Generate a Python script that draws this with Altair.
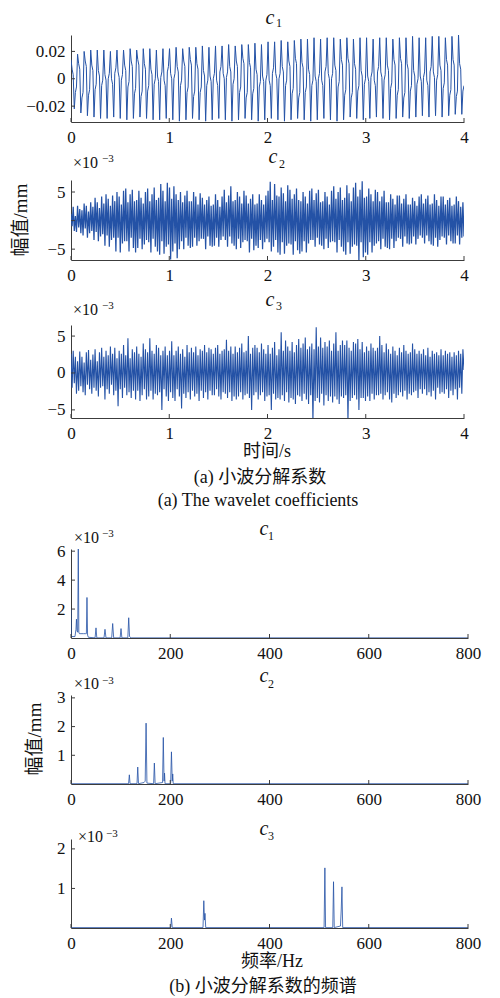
import altair as alt
import numpy as np
import pandas as pd

# ---------------- data ----------------
# c1 wavelet coefficient (unit: 1e-3 mm), 0..4 s
c1_vals = [
    14, 7, 3, -22, -10, -6,   18, 11, 7, -25, -14, -10,  20, 13, 9, -27, -12, -8,
    21, 10, 6, -28, -8, -4,   21, 6, 2, -29, -5, -1,     21, 3, -1, -29, 0, 4,
    20, 0, -4, -28, 4, 8,     21, 5, 1, -29, -1, 3,      21, 10, 6, -30, -6, -2,
    22, 13, 9, -29, -11, -7,  21, 14, 10, -28, -13, -9,  22, 11, 7, -29, -9, -5,
    22, 7, 3, -30, -4, 0,     21, 2, -2, -30, 1, 5,      22, -1, -5, -29, 5, 9,
    22, 4, 0, -30, 0, 4,      23, 9, 5, -31, -5, -1,     22, 13, 9, -30, -10, -6,
    23, 14, 10, -29, -13, -9, 23, 11, 7, -30, -10, -6,   24, 6, 2, -31, -5, -1,
    23, 2, -2, -30, 0, 4,     24, -1, -5, -29, 5, 9,     24, 4, 0, -30, 1, 5,
    25, 9, 5, -31, -4, 0,     24, 13, 9, -30, -10, -6,   25, 15, 11, -29, -14, -10,
    25, 12, 8, -30, -11, -7,  26, 7, 3, -31, -6, -2,     25, 2, -2, -30, -1, 3,
    27, -1, -5, -29, 4, 8,    27, 4, 0, -30, 0, 4,       28, 9, 5, -31, -5, -1,
    27, 13, 9, -30, -11, -7,  28, 15, 11, -29, -14, -10, 29, 12, 8, -30, -10, -6,
    29, 7, 3, -31, -5, -1,    30, 2, -2, -30, 0, 4,      29, -1, -5, -29, 5, 9,
    30, 4, 0, -30, 0, 4,      30, 10, 6, -31, -6, -2,    29, 14, 10, -30, -12, -8,
    30, 15, 11, -28, -14, -10, 29, 11, 7, -29, -9, -5,   30, 6, 2, -30, -4, 0,
    30, 2, -2, -29, 1, 5,     29, -1, -5, -28, 5, 9,     30, 5, 1, -29, -1, 3,
    30, 10, 6, -30, -7, -3,   29, 14, 10, -29, -12, -8,  30, 15, 11, -28, -14, -10,
    30, 11, 7, -29, -9, -5,   31, 6, 2, -28, -4, 0,      30, 2, -2, -27, 1, 5,
    30, -1, -5, -28, 5, 9,    31, 5, 1, -27, -1, 3,      31, 10, 6, -28, -7, -3,
    30, 14, 10, -27, -12, -8, 31, 14, 10, -26, -13, -9,  32, 11, 7, -26, -9, -5,
]

# c2 wavelet coefficient (unit: 1e-3 mm)
c2_vals = [
    1.2, -1.0, 2.4, -1.8, 0.8, -2.0, 2.6, -1.2, 2.0, -2.2,
    1.8, -2.6, 3.0, -1.4, 2.6, -3.0, 1.6, -2.2, 3.2, -1.8,
    2.4, -3.4, 4.0, -2.0, 3.2, -3.6, 2.2, -2.8, 4.2, -2.4,
    3.0, -4.4, 4.6, -2.6, 3.8, -4.6, 2.6, -3.4, 4.4, -3.0,
    3.4, -5.4, 5.0, -3.0, 4.2, -5.6, 2.8, -4.0, 5.2, -3.6,
    5.6, -3.6, 3.2, -5.4, 4.6, -3.0, 5.4, -4.8, 3.4, -5.6,
    3.6, -4.8, 5.2, -3.2, 4.0, -5.0, 3.0, -4.2, 5.0, -3.4,
    5.6, -3.8, 3.4, -5.6, 4.6, -3.2, 5.8, -4.6, 3.6, -5.4,
    4.0, -6.0, 6.4, -3.6, 5.2, -5.8, 3.4, -4.6, 6.6, -4.2,
    5.8, -6.8, 3.8, -5.4, 6.0, -4.0, 4.6, -6.6, 3.6, -5.0,
    5.0, -3.6, 3.2, -5.0, 4.4, -3.0, 5.2, -4.4, 3.4, -4.8,
    3.4, -4.6, 5.0, -3.0, 4.2, -4.4, 2.8, -3.6, 4.8, -3.2,
    4.0, -3.2, 2.8, -5.0, 3.6, -2.8, 4.2, -4.4, 2.6, -4.6,
    2.8, -4.4, 4.6, -3.0, 3.6, -4.6, 2.4, -3.4, 4.2, -2.8,
    5.4, -3.4, 3.2, -4.6, 4.4, -2.8, 6.0, -4.0, 3.4, -4.4,
    3.6, -5.0, 5.0, -3.2, 4.2, -4.8, 3.0, -3.8, 5.2, -3.4,
    4.4, -3.6, 3.0, -5.6, 3.8, -3.2, 4.6, -5.2, 2.8, -4.4,
    3.0, -4.8, 4.6, -3.4, 3.6, -5.0, 2.8, -3.8, 4.4, -3.2,
    5.2, -3.8, 6.8, -5.4, 3.6, -4.6, 6.4, -3.4, 4.4, -5.6,
    4.2, -6.0, 5.8, -3.8, 4.8, -5.8, 3.4, -4.4, 6.2, -4.0,
    5.4, -4.2, 3.8, -6.0, 4.6, -3.6, 5.6, -5.2, 3.6, -5.8,
    3.4, -5.4, 5.0, -3.6, 4.2, -5.6, 3.0, -4.0, 5.2, -3.4,
    5.6, -3.4, 3.6, -4.6, 4.8, -3.0, 5.4, -4.2, 3.2, -4.4,
    3.4, -5.0, 5.0, -3.2, 4.2, -4.8, 2.8, -3.8, 5.2, -3.6,
    6.0, -3.8, 3.8, -5.6, 5.0, -3.4, 5.8, -4.6, 3.6, -5.4,
    4.0, -6.0, 6.2, -3.8, 4.8, -5.8, 3.4, -4.6, 5.8, -4.2,
    6.6, -4.4, 4.2, -7.0, 5.4, -3.8, 6.9, -6.4, 4.0, -5.6,
    4.2, -6.0, 5.6, -3.8, 4.6, -5.6, 3.4, -4.4, 5.4, -4.0,
    5.0, -3.6, 3.4, -5.0, 4.2, -3.2, 5.2, -4.6, 3.2, -4.8,
    3.2, -5.0, 4.6, -3.2, 3.8, -4.8, 2.8, -3.6, 4.4, -3.0,
    4.4, -3.2, 3.0, -4.6, 3.8, -2.8, 4.6, -4.0, 2.8, -4.2,
    2.8, -4.0, 4.0, -2.8, 3.4, -4.2, 2.6, -3.2, 4.2, -2.6,
    4.6, -3.0, 3.0, -4.0, 3.8, -2.6, 4.4, -3.6, 2.8, -4.2,
    3.0, -4.4, 4.6, -3.0, 3.6, -4.6, 2.6, -3.4, 4.2, -2.8,
    4.2, -3.0, 2.8, -4.2, 3.6, -2.6, 4.0, -3.6, 2.6, -4.0,
    2.8, -4.0, 4.2, -2.6, 3.4, -4.2, 2.4, -3.0, 3.2, -2.8,
]

# c3 wavelet coefficient (unit: 1e-3 mm)
c3_vals = [
    2.6, -2.0, 3.0, -1.4, 2.2, -2.8, 1.6, -2.4, 2.9, -1.8,
    2.2, -2.6, 1.4, -3.0, 2.8, -1.6, 3.1, -2.2, 1.8, -2.8,
    2.5, -2.0, 3.2, -2.4, 1.6, -3.2, 2.8, -2.0, 3.4, -1.8,
    2.2, -3.6, 3.0, -2.2, 2.4, -2.8, 3.6, -1.6, 2.6, -3.0,
    3.4, -2.4, 2.0, -4.5, 3.0, -2.2, 2.6, -3.4, 3.8, -2.0,
    2.4, -3.0, 4.7, -2.6, 2.0, -3.4, 3.2, -2.4, 2.8, -3.6,
    3.6, -2.4, 2.6, -3.8, 2.2, -3.0, 4.0, -2.2, 3.2, -3.6,
    2.8, -3.2, 4.7, -2.4, 3.0, -3.6, 2.6, -2.8, 3.8, -3.0,
    3.4, -2.6, 2.4, -5.0, 3.0, -2.2, 3.6, -3.2, 2.4, -3.8,
    3.0, -2.6, 4.3, -3.4, 2.4, -3.8, 3.0, -2.2, 3.6, -3.2,
    2.6, -4.8, 3.2, -2.8, 2.2, -3.4, 3.8, -2.6, 2.8, -3.6,
    3.4, -2.4, 2.8, -3.2, 3.6, -2.8, 2.4, -3.8, 3.2, -2.4,
    3.0, -3.4, 3.8, -2.6, 2.8, -3.6, 3.4, -2.4, 3.2, -3.0,
    2.6, -3.0, 3.4, -2.2, 3.8, -3.2, 2.6, -3.6, 3.0, -2.6,
    3.2, -2.8, 4.5, -3.4, 3.0, -2.6, 3.6, -3.8, 2.6, -3.2,
    3.6, -3.6, 2.8, -3.2, 3.4, -2.6, 4.0, -3.6, 2.8, -3.0,
    3.0, -2.8, 5.0, -3.4, 2.6, -5.0, 3.4, -3.0, 3.8, -2.6,
    3.4, -3.6, 2.8, -3.0, 4.0, -2.6, 3.2, -3.8, 2.6, -3.2,
    3.8, -3.0, 2.6, -5.0, 3.4, -2.8, 4.2, -3.6, 2.4, -3.4,
    3.2, -3.6, 5.5, -3.0, 3.0, -3.8, 4.4, -2.6, 3.6, -4.0,
    3.0, -3.4, 4.2, -3.6, 2.8, -4.2, 3.8, -3.0, 4.6, -3.2,
    3.4, -3.8, 4.0, -2.8, 4.8, -3.6, 3.2, -4.2, 3.6, -3.0,
    4.0, -6.6, 3.2, -3.8, 6.2, -3.4, 3.6, -4.0, 4.8, -2.8,
    3.4, -4.4, 4.2, -3.0, 3.6, -3.8, 4.4, -3.2, 3.0, -4.0,
    4.0, -3.2, 5.5, -3.6, 3.0, -4.2, 3.8, -3.2, 4.4, -3.4,
    3.8, -3.0, 4.4, -6.6, 3.4, -3.8, 3.0, -3.4, 4.2, -3.0,
    4.0, -3.6, 4.6, -5.0, 3.2, -3.4, 4.2, -3.4, 2.8, -3.8,
    3.6, -3.2, 3.0, -3.8, 4.0, -2.8, 3.4, -3.6, 3.0, -3.0,
    3.4, -3.0, 5.0, -2.8, 3.8, -3.6, 2.8, -3.0, 4.0, -2.6,
    3.2, -3.6, 2.6, -4.0, 3.6, -2.8, 3.0, -3.4, 2.4, -3.0,
    3.4, -2.6, 2.8, -3.2, 3.8, -2.4, 3.0, -3.6, 2.6, -2.8,
    2.8, -3.0, 4.0, -2.6, 3.2, -2.4, 2.6, -3.4, 3.0, -2.2,
    2.6, -2.8, 3.2, -2.2, 2.4, -3.0, 3.4, -2.6, 2.2, -3.2,
    3.0, -2.4, 2.6, -3.6, 2.8, -2.0, 2.4, -2.8, 3.2, -2.6,
    2.4, -2.8, 3.0, -2.2, 2.6, -3.4, 2.8, -2.4, 2.2, -3.0,
    2.8, -2.2, 2.4, -3.6, 3.0, -2.0, 2.6, -2.8, 3.2, 0.4,
]

# spectra (frequency in Hz, amplitude in 1e-3 mm)
s1_freq = [0, 0.5, 2, 8, 10, 11, 12, 13.5, 14.7, 15.8, 17, 20, 25, 29, 31, 32.2,
           33.4, 35, 48.5, 50.4, 52, 66.5, 68.5, 70.5, 82, 84, 86, 99, 100.8,
           102.5, 114.5, 116.3, 118, 121, 800]
s1_amp = [2.0, 0.2, 0.1, 0.1, 0.6, 1.3, 0.5, 0.4, 6.3, 0.4, 0.3, 0.3, 0.3, 0.3,
          0.3, 2.8, 0.2, 0.05, 0.01, 0.7, 0.01, 0.01, 0.6, 0.01, 0.01, 1.0,
          0.01, 0.01, 0.65, 0.01, 0.01, 1.4, 0.1, 0.01, 0.01]

s2_freq = [0, 116, 117.6, 119, 133, 134.5, 136, 147, 149.5, 151.3, 153, 166.5,
           168, 169.5, 184.5, 186, 187.5, 188.5, 189.5, 200.8, 202.4, 204, 205,
           206, 800]
s2_amp = [0.01, 0.01, 0.32, 0.01, 0.01, 0.59, 0.01, 0.05, 0.1, 2.12, 0.03, 0.01,
          0.73, 0.01, 0.05, 1.62, 0.1, 0.38, 0.01, 0.01, 1.12, 0.1, 0.35, 0.01,
          0.01]

s3_freq = [0, 201, 202.4, 204, 266, 267.6, 269, 270, 271.5, 510, 511.6, 513,
           527.5, 529, 530.5, 543, 544.6, 546, 547.5, 800]
s3_amp = [0.01, 0.01, 0.25, 0.01, 0.01, 0.69, 0.2, 0.37, 0.01, 0.01, 1.52, 0.01,
          0.01, 1.17, 0.01, 0.05, 0.48, 1.04, 0.01, 0.01]

time_ticks = [0, 1, 2, 3, 4]
freq_ticks = [0, 200, 400, 600, 800]

# ---------------- style ----------------
SERIF = "Liberation Serif"
CJK = "Liberation Serif, Noto Sans CJK SC"
LINE = "#2452a6"
AXIS = "#3c3c3c"
TXT = "#111111"


def text_layer(s, x, y, size, italic=False, align="left", baseline="alphabetic",
               angle=0, font=SERIF):
    kw = dict(font=font, fontSize=size, color=TXT, align=align, baseline=baseline)
    if italic:
        kw["fontStyle"] = "italic"
    if angle:
        kw["angle"] = angle
    return alt.Chart(pd.DataFrame({"s": [s]})).mark_text(**kw).encode(
        x=alt.value(x), y=alt.value(y), text="s:N")


def panel(xs, ys, xdom, ydom, xticks, yticks, ylabexpr, width, height,
          sub, tpos, sci=None, extra=(), sw=0.8):
    df = pd.DataFrame({"x": xs, "y": ys})
    xsc = alt.Scale(domain=xdom, nice=False, zero=False)
    ysc = alt.Scale(domain=ydom, nice=False, zero=False)
    xaxis = alt.Axis(values=xticks, title=None, grid=False, ticks=False, tickSize=0,
                     labelFont=SERIF, labelFontSize=17, labelColor=TXT, labelPadding=7,
                     domainColor=AXIS, labelFlush=False, format="d")
    yaxis = alt.Axis(values=yticks, title=None, grid=False, ticks=False, tickSize=0,
                     labelFont=SERIF, labelFontSize=17, labelColor=TXT, labelPadding=6,
                     domainColor=AXIS, labelExpr=ylabexpr, labelFlush=False)
    line = alt.Chart(df).mark_line(color=LINE, strokeWidth=sw, clip=True).encode(
        x=alt.X("x:Q", scale=xsc, axis=xaxis),
        y=alt.Y("y:Q", scale=ysc, axis=yaxis))
    xt = alt.Chart(pd.DataFrame({"x": xticks})).mark_rule(color=AXIS, strokeWidth=1).encode(
        x="x:Q", y=alt.value(height), y2=alt.value(height - 4))
    yt = alt.Chart(pd.DataFrame({"y": yticks})).mark_rule(color=AXIS, strokeWidth=1).encode(
        y="y:Q", x=alt.value(0), x2=alt.value(4))
    layers = [line, xt, yt]
    cx, cy, sx, sy = tpos
    layers.append(text_layer("c", cx, cy, 20, italic=True, align="center"))
    layers.append(text_layer(sub, sx, sy, 12, align="center"))
    if sci is not None:
        ax, ay, ex, ey = sci
        layers.append(text_layer("×10", ax, ay, 16))
        layers.append(text_layer("−3", ex, ey, 11))
    layers.extend(extra)
    return alt.layer(*layers).properties(width=width, height=height)


def spacer(h):
    return alt.Chart(pd.DataFrame({"z": [0]})).mark_point(opacity=0, size=1).encode(
        x=alt.X("z:Q", axis=None), y=alt.Y("z:Q", axis=None)).properties(width=10, height=h)


t1 = np.linspace(0, 4, len(c1_vals))
t2 = np.linspace(0, 4, len(c2_vals))
t3 = np.linspace(0, 4, len(c3_vals))

c1_mm = [v / 1000 for v in c1_vals]

ylab_c1 = "datum.value == 0 ? '0' : format(datum.value, '.2f')"
ylab_int = "format(datum.value, 'd')"

W_T, W_F = 393, 397

p1 = panel(t1, c1_mm, [0, 4], [-0.0316, 0.032], time_ticks, [-0.02, 0, 0.02],
           ylab_c1, W_T, 87, "1", (199, -11, 208, -8), sw=1.0)
p2 = panel(t2, c2_vals, [0, 4], [-6.9, 7.1], time_ticks, [-5, 0, 5], ylab_int,
           W_T, 80, "2", (202, -17, 211, -12), sci=(2, -12, 31, -18), sw=1.25,
           extra=[text_layer("幅值/mm", -50, 40, 19, align="center", baseline="middle",
                             angle=270, font=CJK)])
p3 = panel(t3, c3_vals, [0, 4], [-6.1, 6.5], time_ticks, [-5, 0, 5], ylab_int,
           W_T, 93, "3", (199, -19, 208, -15), sci=(2, -10, 31, -16), sw=1.1,
           extra=[text_layer("时间/s", 196, 127, 18, align="center", baseline="middle", font=CJK),
                  text_layer("(a) 小波分解系数", 189, 153, 18, align="center",
                             baseline="middle", font=CJK),
                  text_layer("(a) The wavelet coefficients", 187, 176, 18, align="center",
                             baseline="middle")])
p4 = panel(s1_freq, s1_amp, [0, 800], [0, 6.15], freq_ticks, [2, 4, 6], ylab_int,
           W_F, 89, "1", (193, -14, 200, -9), sci=(3, -6, 31, -12))
p5 = panel(s2_freq, s2_amp, [0, 800], [0, 3.1], freq_ticks, [1, 2, 3], ylab_int,
           W_F, 89, "2", (193, -13, 200, -7), sci=(3, -6, 31, -11),
           extra=[text_layer("幅值/mm", -36, 44, 19, align="center", baseline="middle",
                             angle=270, font=CJK)])
p6 = panel(s3_freq, s3_amp, [0, 800], [0, 2.25], freq_ticks, [1, 2], ylab_int,
           W_F, 89, "3", (193, -4, 200, 1), sci=(7, 3, 35, -2),
           extra=[text_layer("频率/Hz", 201, 123, 18, align="center", baseline="middle", font=CJK),
                  text_layer("(b) 小波分解系数的频谱", 192, 148, 18, align="center",
                             baseline="middle", font=CJK)])

chart = alt.vconcat(
    p1, spacer(57.6), p2, spacer(65), p3, spacer(131), p4, spacer(57), p5, spacer(55), p6,
    spacing=0, bounds="flush"
).properties(
    padding={"left": 12, "top": 8, "right": 5, "bottom": 5},
    background="white"
).configure_view(strokeWidth=0, strokeOpacity=0).configure_axis(
    labelFont=SERIF, labelFontSize=17
)

chart.save("out.html", embed_options={"renderer": "svg", "actions": False})
